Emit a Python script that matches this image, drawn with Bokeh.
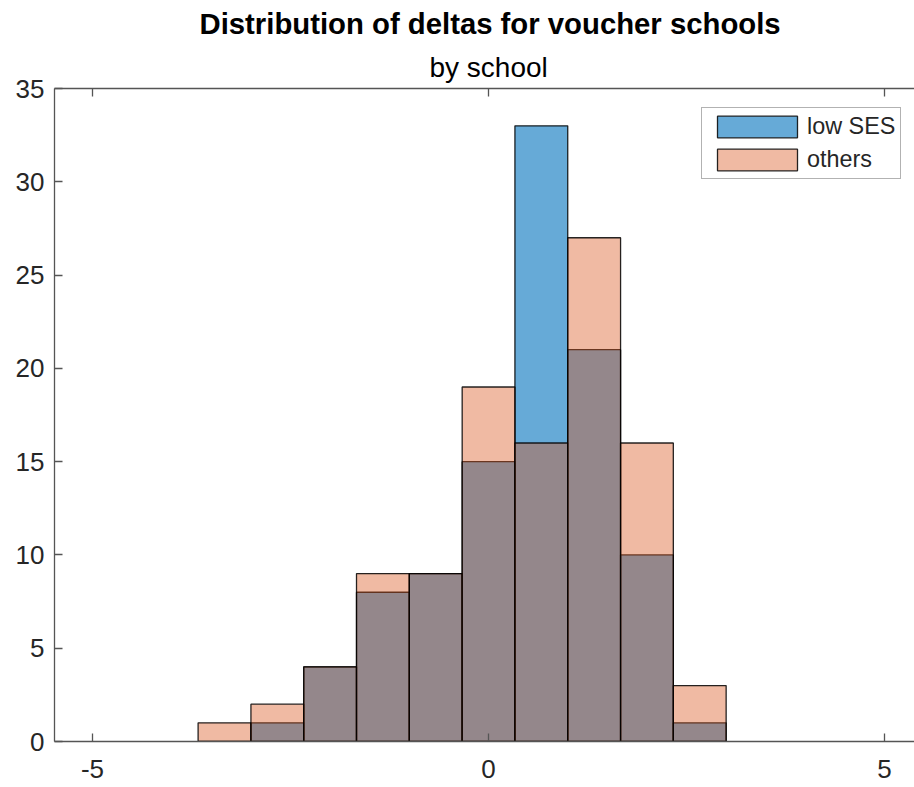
from bokeh.plotting import figure
from bokeh.models import Range1d, LinearAxis, FixedTicker, Title, Legend, LegendItem
from bokeh.embed import file_html
from bokeh.resources import INLINE

# ---- data ----
bin_edges = [-3.667, -3.0, -2.333, -1.667, -1.0, -0.333, 0.333, 1.0, 1.667, 2.333, 3.0]
low_ses_counts = [0, 1, 4, 8, 9, 15, 33, 21, 10, 1]
others_counts = [1, 2, 4, 9, 9, 19, 16, 27, 16, 3]
series_names = ["low SES", "others"]
x_ticks = [-5, 0, 5]
x_tick_labels = {-5: "-5", 0: "0", 5: "5"}
y_ticks = [0, 5, 10, 15, 20, 25, 30, 35]
title_text = "Distribution of deltas for voucher schools"
subtitle_text = "by school"

FONT = "Liberation Sans"
AX_COLOR = "#262626"
LINE_COLOR = "#555555"

p = figure(width=914, height=787, output_backend="svg", toolbar_location=None,
           title=None, x_range=Range1d(-5.48, 5.378), y_range=Range1d(0, 35),
           x_axis_location=None, y_axis_location=None,
           min_border_left=54, min_border_right=0, min_border_top=87, min_border_bottom=46)
p.outline_line_color = None
p.xgrid.visible = False
p.ygrid.visible = False
p.background_fill_color = "white"
p.border_fill_color = "white"

lefts = bin_edges[:-1]
rights = bin_edges[1:]

r_low = p.quad(left=lefts, right=rights, bottom=0, top=low_ses_counts,
               fill_color="#0072BD", fill_alpha=0.6,
               line_color="black", line_width=1.3, line_alpha=0.85)
r_oth = p.quad(left=lefts, right=rights, bottom=0, top=others_counts,
               fill_color="#D95319", fill_alpha=0.4,
               line_color="black", line_width=1.3, line_alpha=0.85)

def style_axis(ax):
    ax.axis_line_color = LINE_COLOR
    ax.axis_line_width = 1.3
    ax.major_tick_line_color = LINE_COLOR
    ax.major_tick_line_width = 1.3
    ax.major_tick_in = 8
    ax.major_tick_out = 0
    ax.minor_tick_line_color = None
    ax.major_label_text_font = FONT
    ax.major_label_text_color = AX_COLOR

xb = LinearAxis(ticker=FixedTicker(ticks=x_ticks), major_label_overrides=x_tick_labels)
p.add_layout(xb, "below")
yl = LinearAxis(ticker=FixedTicker(ticks=y_ticks))
p.add_layout(yl, "left")
xt = LinearAxis(ticker=FixedTicker(ticks=x_ticks))
p.add_layout(xt, "above")

for ax in (xb, yl, xt):
    style_axis(ax)
xb.major_label_text_font_size = "26px"
xb.major_label_standoff = 18
yl.major_label_text_font_size = "26px"
yl.major_label_standoff = 10
xt.major_label_text_font_size = "1px"
xt.major_label_text_alpha = 0
xt.major_label_standoff = 0

p.add_layout(Title(text=subtitle_text, align="left", text_font=FONT,
                   text_font_size="28px", text_font_style="normal",
                   text_color="black", standoff=12, offset=375), "above")
p.add_layout(Title(text=title_text, align="left", text_font=FONT,
                   text_font_size="29.3px", text_font_style="bold",
                   text_color="black", standoff=8, offset=145), "above")

legend = Legend(items=[LegendItem(label=series_names[0], renderers=[r_low]),
                       LegendItem(label=series_names[1], renderers=[r_oth])],
                location=(647, 562))
legend.label_text_font = FONT
legend.label_text_font_size = "23.4px"
legend.label_text_color = AX_COLOR
legend.glyph_width = 100
legend.glyph_height = 27
legend.label_height = 22
legend.label_standoff = -4
legend.spacing = 6
legend.padding = 5
legend.margin = 0
legend.border_line_color = "#666666"
legend.border_line_width = 1.2
legend.background_fill_color = "white"
legend.background_fill_alpha = 1
p.add_layout(legend, "center")

open("out.html", "w").write(file_html(p, INLINE))
